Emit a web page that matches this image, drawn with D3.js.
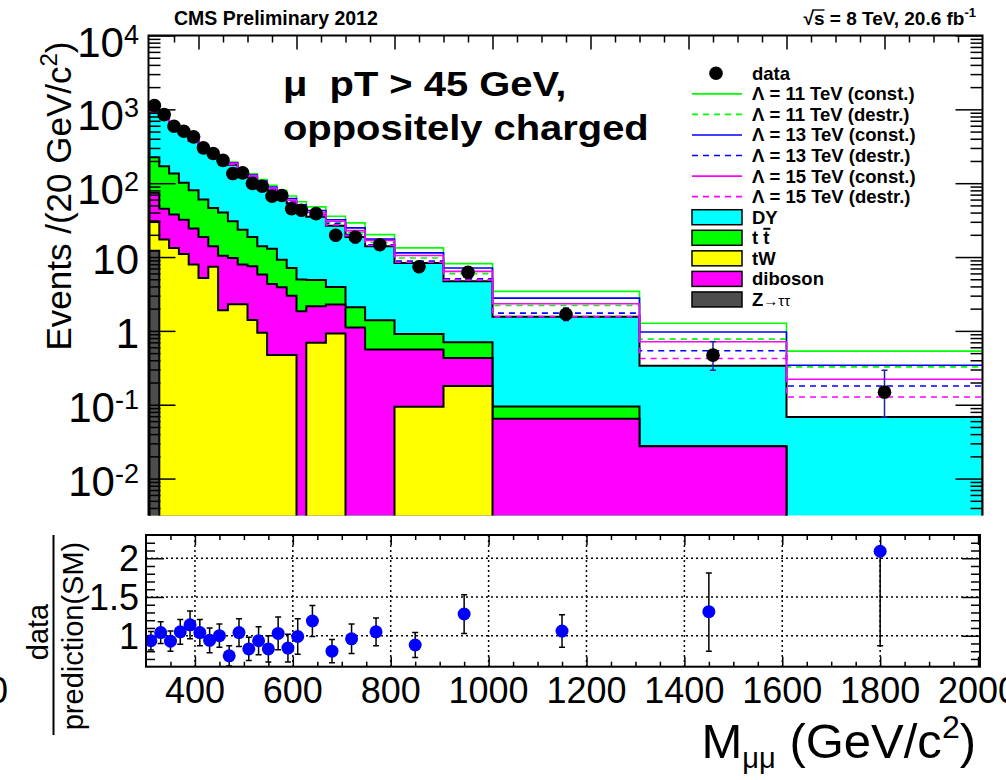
<!DOCTYPE html>
<html>
<head>
<meta charset="utf-8">
<title>Dimuon invariant mass</title>
<script src="https://cdn.jsdelivr.net/npm/d3@7/dist/d3.min.js"></script>
<style>
  html, body { margin: 0; padding: 0; background: #fff; }
  svg { display: block; }
  text { font-family: "Liberation Sans", Arial, Helvetica, sans-serif; fill: #000; }
</style>
</head>
<body>
<svg id="chart" width="1006" height="780"></svg>
<script>
// ---- binning (GeV/c^2) ----
const binEdges = [300,320,340,360,380,400,420,440,460,480,500,520,540,560,580,600,620,660,700,740,800,900,1000,1300,1600,2000];

// ---- SM backgrounds, events / 20 GeV ----
const zTauTau = [12.2,0,0,0,0,0,0,0,0,0,0,0,0,0,0,0,0,0,0,0,0,0,0,0,0];
const tW      = [18.3,17.3,13.3,11.0,7.9,5.2,7.4,1.9,2.3,2.3,1.4,0.94,0.47,0.47,0.47,0,0.69,0.92,0,0,0.094,0.18,0,0,0];
const diboson = [43.5,27.7,24.3,21,16.4,13.5,6.6,8.5,7.4,5.6,6.1,4.86,3.83,3.43,2.53,1.84,1.46,1.35,1.11,0.558,0.464,0.25,0.0644,0.0273,0];
const ttbar   = [150,124,97.4,69,55.7,41.3,32,29.6,20.8,15.6,11.2,8.2,8.6,5.3,4.1,3.12,2.75,1.67,0.98,0.84,0.35,0.27,0.030,0,0];
const drellYan= [706,631,485,380,292,230,216,164,147.5,109.5,100.3,83,67.1,56.8,46.5,38.4,30.1,22.6,16.6,12.6,7.4,4.0,1.455,0.31,0.068];

// ---- contact interaction predictions (SM + signal) ----
const sig11Const = [950,825,640,500,390,307,280,220,194,148,134,112,94,80,67,56,47.8,35.6,29.0,20.1,13.3,8.15,3.43,1.27,0.532];
const sig11Destr = [938,810,628,488,378,296,268,210,184,138,124,102,85,70,57.5,47,38.5,29.4,21.6,15.8,9.7,5.97,2.21,0.774,0.326];
const sig13Const = [945,818,634,494,384,301,274,215,189,143,129,107,89,75,62,51,42.7,32,24.8,17.5,11.4,7.1,2.78,0.966,0.343];
const sig13Destr = [934,805,624,485,375,293,265,207,181,136,122,100,83,68,55.5,45,37,28.4,20.1,14.7,8.8,5.06,1.74,0.538,0.179];
const sig15Const = [940,812,630,490,380,298,270,212,186,140,126,104,86,72,59,48.5,40.2,30.5,22.8,16.8,10.5,6.4,2.33,0.714,0.221];
const sig15Destr = [932,802,622,483,373,291,263,205,179,134,120,98,81,67,54.5,44,36.5,27.3,19.5,14.3,8.5,4.9,1.56,0.423,0.127];

// ---- observed data ----
const dataValues = [1124,849,590,505,424,301,252,204,135,138,99,91,66.5,68,45,43,38.7,19.7,18.7,14.7,7.4,6.2,1.68,0.469,0.148];
const dataErrLo  = [33,29,24,22,21,17,16,14,12,12,10,9.5,8.2,8.2,6.7,6.6,4.4,3.1,3.1,2.2,1.2,1.1,0.30,0.176,0.080];
const dataErrHi  = [33,29,24,22,21,17,16,14,12,12,10,9.5,8.2,8.2,6.7,6.6,4.4,3.1,3.1,2.2,1.2,1.1,0.36,0.247,0.145];

// ---- data / SM prediction ----
const ratioValues = [0.935,1.04,0.93,1.05,1.14,1.04,0.94,1.0,0.74,1.04,0.83,0.935,0.83,1.03,0.84,0.99,1.19,0.80,0.96,1.05,0.88,1.28,1.06,1.31,2.09];
const ratioErrLo  = [0.12,0.14,0.13,0.16,0.18,0.17,0.16,0.15,0.13,0.18,0.15,0.18,0.17,0.21,0.18,0.23,0.20,0.15,0.19,0.18,0.16,0.25,0.21,0.51,1.22];
const ratioErrHi  = [0.12,0.14,0.13,0.16,0.18,0.17,0.16,0.15,0.13,0.18,0.15,0.18,0.17,0.21,0.18,0.23,0.20,0.15,0.19,0.18,0.16,0.25,0.21,0.50,0];

// ---- axis ticks ----
const yMajorExps   = [-2,-1,0,1,2,3,4];
const xMajorTicks  = [400,600,800,1000,1200,1400,1600,1800,2000];
const xTickLabels  = ["400","600","800","1000","1200","1400","1600","1800","2000"];
const ratioMajor   = [1,1.5,2];
const ratioLabels  = ["1","1.5","2"];
const ratioGridX   = [400,600,800,1000,1200,1400,1600,1800];

const legendLabels = ["data","Λ = 11 TeV (const.)","Λ = 11 TeV (destr.)","Λ = 13 TeV (const.)","Λ = 13 TeV (destr.)","Λ = 15 TeV (const.)","Λ = 15 TeV (destr.)","DY","t t","tW","diboson","Z"];

// ------------------------------------------------------------------
const svg = d3.select("#chart");
const bins = binEdges.slice(0, -1).map((lo, i) => ({ lo, hi: binEdges[i + 1], c: (lo + binEdges[i + 1]) / 2 }));

const P = { left: 148.5, right: 982.5, top: 35.5, bottom: 515.5 };      // upper pad frame
const R = { left: 146, right: 980, top: 535, bottom: 666.7 };           // ratio pad frame

const x  = d3.scaleLinear().domain([300, 2000]).range([149.5, 982.5]);
const y  = d3.scaleLog().domain([Math.pow(10, -2.5), 1e4]).range([P.bottom, P.top]);
const xr = d3.scaleLinear().domain([300, 2004]).range([R.left, R.right]);
const yr = d3.scaleLinear().domain([0.6, 2.3]).range([R.bottom, R.top]);

svg.append("clipPath").attr("id", "clipMain").append("rect")
  .attr("x", P.left).attr("y", P.top).attr("width", P.right - P.left).attr("height", P.bottom - P.top);
svg.append("clipPath").attr("id", "clipRatio").append("rect")
  .attr("x", R.left).attr("y", R.top).attr("width", R.right - R.left).attr("height", R.bottom - R.top);

const plot = svg.append("g").attr("clip-path", "url(#clipMain)");

// ---- stacked backgrounds: each cumulative histogram filled from the bottom ----
const keys = ["ztt", "tw", "diboson", "ttbar", "dy"];
const colors = { ztt: "#4d4d4d", tw: "#ffff00", diboson: "#ff00ff", ttbar: "#00ff00", dy: "#00ffff" };
const rows = bins.map((b, i) => ({ ztt: zTauTau[i], tw: tW[i], diboson: diboson[i], ttbar: ttbar[i], dy: drellYan[i] }));
const stacked = d3.stack().keys(keys)(rows);

const yBelow = P.bottom + 12;
const yv = v => (v > 0 ? y(v) : yBelow);

function stepPoints(vals) {
  const pts = [];
  vals.forEach((v, i) => { pts.push([x(bins[i].lo), yv(v)]); pts.push([x(bins[i].hi), yv(v)]); });
  return pts;
}
const line = d3.line();

stacked.slice().reverse().forEach(layer => {
  const tops = layer.map(d => d[1]);
  const pts = [[x(300), yBelow], ...stepPoints(tops), [x(2000), yBelow]];
  plot.append("path")
    .attr("d", line(pts) + "Z")
    .attr("fill", colors[layer.key])
    .attr("stroke", "#000").attr("stroke-width", 2).attr("stroke-linejoin", "miter");
});

// ---- signal hypotheses ----
const signals = [
  { v: sig11Const, c: "#00ff00", dash: null },
  { v: sig11Destr, c: "#00ff00", dash: "6,5" },
  { v: sig13Const, c: "#0000ff", dash: null },
  { v: sig13Destr, c: "#0000ff", dash: "6,5" },
  { v: sig15Const, c: "#ff00ff", dash: null },
  { v: sig15Destr, c: "#ff00ff", dash: "6,5" }
];
signals.forEach(s => {
  plot.append("path").attr("d", line(stepPoints(s.v)))
    .attr("fill", "none").attr("stroke", s.c).attr("stroke-width", 1.6)
    .attr("stroke-dasharray", s.dash);
});

// ---- data points ----
const dataG = plot.append("g");
bins.forEach((b, i) => {
  const cx = x(b.c);
  const y1 = y(dataValues[i] + dataErrHi[i]), y0 = y(Math.max(dataValues[i] - dataErrLo[i], 1e-4));
  dataG.append("line").attr("x1", cx).attr("x2", cx).attr("y1", y1).attr("y2", y0)
    .attr("stroke", "#2020a0").attr("stroke-width", 1.5);
  [y0, y1].forEach(yy => dataG.append("line").attr("x1", cx - 3).attr("x2", cx + 3).attr("y1", yy).attr("y2", yy)
    .attr("stroke", "#2020a0").attr("stroke-width", 1.5));
});
dataG.selectAll("circle.d").data(bins).join("circle")
  .attr("cx", b => x(b.c)).attr("cy", (b, i) => y(dataValues[i])).attr("r", 6.8).attr("fill", "#000");

// ---- upper pad axes (ticks pointing inward) ----
const yMajors = yMajorExps.map(e => Math.pow(10, e));
const yMinors = [];
d3.range(-3, 4).forEach(e => d3.range(2, 10).forEach(k => {
  const v = k * Math.pow(10, e);
  if (v > Math.pow(10, -2.5) && v < 1e4) yMinors.push(v);
}));
const xMinors = d3.range(350, 2000, 50).filter(v => v % 200 !== 0);

function tickAxis(g, axis) {
  g.call(axis);
  g.select(".domain").remove();
  g.selectAll(".tick line").attr("stroke", "#000").attr("stroke-width", 1.5);
  g.selectAll(".tick text").remove();
}
const axes = svg.append("g");
tickAxis(axes.append("g").attr("transform", `translate(${P.left},0)`), d3.axisLeft(y).tickValues(yMajors).tickSize(-27));
tickAxis(axes.append("g").attr("transform", `translate(${P.left},0)`), d3.axisLeft(y).tickValues(yMinors).tickSize(-12));
tickAxis(axes.append("g").attr("transform", `translate(${P.right},0)`), d3.axisRight(y).tickValues(yMajors).tickSize(-27));
tickAxis(axes.append("g").attr("transform", `translate(${P.right},0)`), d3.axisRight(y).tickValues(yMinors).tickSize(-12));
tickAxis(axes.append("g").attr("transform", `translate(0,${P.top})`), d3.axisTop(x).tickValues(xMajorTicks.filter(v => v < 2000)).tickSize(-14));
tickAxis(axes.append("g").attr("transform", `translate(0,${P.top})`), d3.axisTop(x).tickValues(xMinors).tickSize(-7));

// frame: top, left and right edges
svg.append("path")
  .attr("d", `M${P.left},${P.bottom}V${P.top}H${P.right}V${P.bottom}`)
  .attr("fill", "none").attr("stroke", "#000").attr("stroke-width", 2);

// y tick labels: 10^n
yMajorExps.forEach(e => {
  const ty = y(Math.pow(10, e)) + 17 + (e >= 2 ? 4 : 0);
  const t = svg.append("text").attr("x", 139).attr("y", ty).attr("text-anchor", "end").attr("font-size", 42);
  if (e === 0) t.text("1");
  else if (e === 1) t.text("10");
  else {
    t.append("tspan").text("10");
    t.append("tspan").attr("dy", -13).attr("font-size", 27).text(String(e));
  }
});

// y axis title
const yt = svg.append("text").attr("transform", "translate(71,196) rotate(-90)")
  .attr("text-anchor", "middle").attr("font-size", 35);
yt.append("tspan").text("Events /(20 GeV/c");
yt.append("tspan").attr("dy", -14).attr("font-size", 24).text("2");
yt.append("tspan").attr("dy", 14).text(")");

// ---- header texts ----
svg.append("text").attr("x", 174).attr("y", 25).attr("font-size", 19.5).attr("font-weight", "bold")
  .text("CMS Preliminary 2012");
const lumi = svg.append("text").attr("x", 976).attr("y", 25).attr("text-anchor", "end")
  .attr("font-size", 19).attr("font-weight", "bold");
lumi.append("tspan").text("√s = 8 TeV, 20.6 fb");
lumi.append("tspan").attr("dy", -8).attr("font-size", 13).text("-1");
{
  const n = lumi.node();
  const e0 = n.getExtentOfChar(0), e1 = n.getExtentOfChar(1);
  svg.append("line").attr("x1", e0.x + e0.width - 1.5).attr("x2", e1.x + e1.width)
    .attr("y1", e0.y + 2).attr("y2", e0.y + 2).attr("stroke", "#000").attr("stroke-width", 1.4);
}

svg.append("text").attr("transform", "translate(283,96) scale(1.14,1)").attr("font-size", 35).attr("font-weight", "bold")
  .style("white-space", "pre").text("μ  pT > 45 GeV,");
svg.append("text").attr("transform", "translate(283,140) scale(1.14,1)").attr("font-size", 35).attr("font-weight", "bold")
  .text("oppositely charged");

// ---- legend ----
const leg = svg.append("g");
const rowY = i => 73.3 + i * 20.56;
const lx0 = 692, lx1 = 742, ltx = 752;
legendLabels.forEach((lab, i) => {
  const cy = rowY(i);
  if (i === 0) {
    leg.append("circle").attr("cx", 716).attr("cy", cy).attr("r", 6.8).attr("fill", "#000");
  } else if (i <= 6) {
    const s = signals[i - 1];
    leg.append("line").attr("x1", lx0).attr("x2", lx1).attr("y1", cy).attr("y2", cy)
      .attr("stroke", s.c).attr("stroke-width", 1.6).attr("stroke-dasharray", s.dash);
  } else {
    const key = ["dy", "ttbar", "tw", "diboson", "ztt"][i - 7];
    leg.append("rect").attr("x", lx0).attr("y", cy - 7.5).attr("width", lx1 - lx0).attr("height", 15)
      .attr("fill", colors[key]).attr("stroke", "#000").attr("stroke-width", 1.5);
  }
  const t = leg.append("text").attr("x", ltx).attr("y", cy + 6.5).attr("font-size", 18.5).attr("font-weight", "bold")
    .style("white-space", "pre").text(lab);
  if (lab === "t t") {
    const e2 = t.node().getExtentOfChar(2);
    leg.append("line").attr("x1", e2.x).attr("x2", e2.x + e2.width + 1)
      .attr("y1", e2.y + 1.5).attr("y2", e2.y + 1.5).attr("stroke", "#000").attr("stroke-width", 2);
  }
  if (lab === "Z") {
    t.append("tspan").attr("font-size", 15).attr("font-weight", "normal").text("→ττ");
  }
});

// ---- ratio pad ----
const rg = svg.append("g");
ratioMajor.forEach(v => rg.append("line").attr("x1", R.left).attr("x2", R.right).attr("y1", yr(v)).attr("y2", yr(v))
  .attr("stroke", "#000").attr("stroke-width", 1.5).attr("stroke-dasharray", "2,3"));
ratioGridX.forEach(v => rg.append("line").attr("x1", xr(v)).attr("x2", xr(v)).attr("y1", R.top).attr("y2", R.bottom)
  .attr("stroke", "#000").attr("stroke-width", 1.5).attr("stroke-dasharray", "2,3"));

const ratioMinor = d3.range(7, 23).filter(v => v % 5 !== 0).map(v => v / 10);
tickAxis(rg.append("g").attr("transform", `translate(${R.left},0)`), d3.axisLeft(yr).tickValues(ratioMajor).tickSize(-18));
tickAxis(rg.append("g").attr("transform", `translate(${R.left},0)`), d3.axisLeft(yr).tickValues(ratioMinor).tickSize(-9));
tickAxis(rg.append("g").attr("transform", `translate(${R.right},0)`), d3.axisRight(yr).tickValues(ratioMajor).tickSize(-18));
tickAxis(rg.append("g").attr("transform", `translate(${R.right},0)`), d3.axisRight(yr).tickValues(ratioMinor).tickSize(-9));
tickAxis(rg.append("g").attr("transform", `translate(0,${R.bottom})`), d3.axisBottom(xr).tickValues(xMajorTicks).tickSize(-10));
tickAxis(rg.append("g").attr("transform", `translate(0,${R.bottom})`), d3.axisBottom(xr).tickValues(xMinors).tickSize(-5));
tickAxis(rg.append("g").attr("transform", `translate(0,${R.top})`), d3.axisTop(xr).tickValues(xMajorTicks).tickSize(-10));
tickAxis(rg.append("g").attr("transform", `translate(0,${R.top})`), d3.axisTop(xr).tickValues(xMinors).tickSize(-5));

const rp = rg.append("g").attr("clip-path", "url(#clipRatio)");
bins.forEach((b, i) => {
  const cx = xr(b.c);
  const y1 = yr(ratioValues[i] + ratioErrHi[i]), y0 = yr(ratioValues[i] - ratioErrLo[i]);
  rp.append("line").attr("x1", cx).attr("x2", cx).attr("y1", y1).attr("y2", y0).attr("stroke", "#000").attr("stroke-width", 1.5);
  rp.append("line").attr("x1", cx - 3).attr("x2", cx + 3).attr("y1", y0).attr("y2", y0).attr("stroke", "#000").attr("stroke-width", 1.5);
  if (ratioErrHi[i] > 0)
    rp.append("line").attr("x1", cx - 3).attr("x2", cx + 3).attr("y1", y1).attr("y2", y1).attr("stroke", "#000").attr("stroke-width", 1.5);
});
rp.selectAll("circle").data(bins).join("circle")
  .attr("cx", b => xr(b.c)).attr("cy", (b, i) => yr(ratioValues[i])).attr("r", 6.5).attr("fill", "#0000ff");

rg.append("rect").attr("x", R.left).attr("y", R.top).attr("width", R.right - R.left).attr("height", R.bottom - R.top)
  .attr("fill", "none").attr("stroke", "#000").attr("stroke-width", 2);

// ratio tick labels
ratioMajor.forEach((v, i) => svg.append("text").attr("x", 139).attr("y", yr(v) + 13).attr("text-anchor", "end")
  .attr("font-size", 36).text(ratioLabels[i]));
xMajorTicks.forEach((v, i) => svg.append("text").attr("x", xr(v)).attr("y", 703).attr("text-anchor", "middle")
  .attr("font-size", 36).text(xTickLabels[i]));
svg.append("text").attr("x", 8).attr("y", 703).attr("text-anchor", "end").attr("font-size", 36).text("0");

// ratio y title: data / prediction(SM)
svg.append("text").attr("transform", "translate(48,632) rotate(-90)").attr("text-anchor", "middle")
  .attr("font-size", 29).text("data");
svg.append("line").attr("x1", 53.5).attr("x2", 53.5).attr("y1", 535).attr("y2", 735)
  .attr("stroke", "#000").attr("stroke-width", 2);
svg.append("text").attr("transform", "translate(83,636) rotate(-90)").attr("text-anchor", "middle")
  .attr("font-size", 29).text("prediction(SM)");

// x axis title
const xt = svg.append("text").attr("x", 976).attr("y", 758).attr("text-anchor", "end").attr("font-size", 49);
xt.append("tspan").text("M");
xt.append("tspan").attr("dy", 10).attr("font-size", 29).text("μμ");
xt.append("tspan").attr("dy", -10).text(" (GeV/c");
xt.append("tspan").attr("dy", -20).attr("font-size", 32).text("2");
xt.append("tspan").attr("dy", 20).text(")");
</script>
</body>
</html>
